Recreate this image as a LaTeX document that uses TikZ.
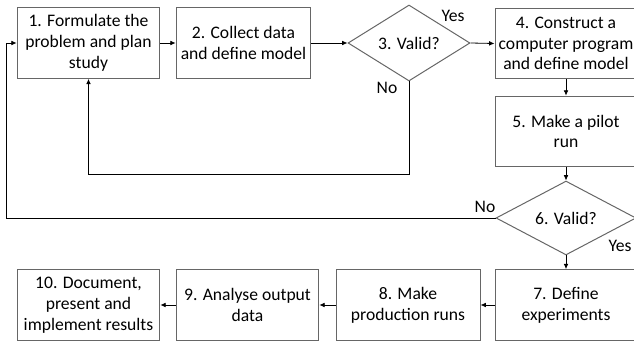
\documentclass[tikz,border=0pt]{standalone}
\usepackage{fontspec}
\setmainfont{Carlito}
\usetikzlibrary{arrows.meta, positioning, shapes.geometric}

\begin{document}
\begin{tikzpicture}[x=0.75pt, y=-0.75pt,
  every node/.style={font=\fontsize{13.2}{15.6}\selectfont},
  stage/.style={draw=black!60, line width=0.75pt, align=center,
    minimum width=107pt, minimum height=53pt, inner sep=1pt},
  check/.style={draw=black!60, line width=0.75pt, diamond, inner sep=0pt},
  flow/.style={-{Latex[length=4pt,width=3.5pt]}, line width=0.6pt}]

  \useasboundingbox (0,0) rectangle (634,342);

  % top row
  \node[stage] (b1) at (88.5,43) {1. Formulate the\\problem and plan\\study};
  \node[stage, minimum width=101pt] (b2) at (243.5,43) {2. Collect data\\and define model};
  \node[check, minimum width=91.5pt, minimum height=57pt] (d3) at (409,43) {3. Valid?};
  \node[stage, minimum width=106.5pt] (b4) at (566,43.5) {4. Construct a\\computer program\\and define model};

  % right column
  \node[stage, minimum width=106.5pt] (b5) at (566,131.5) {5. Make a pilot\\run};
  \node[check, minimum width=105pt, minimum height=52.5pt] (d6) at (566,218) {6. Valid?};

  % bottom row
  \node[stage, minimum width=106.5pt] (b7) at (566,305) {7. Define\\experiments};
  \node[stage, minimum width=108pt] (b8) at (408,305) {8. Make\\production runs};
  \node[stage] (b9) at (247.5,305) {9. Analyse output\\data};
  \node[stage] (b10) at (88.5,305) {10. Document,\\present and\\implement results};

  % decision labels
  \node (yes3) at (453,16) {Yes};
  \node (no3) at (387,88) {No};
  \node (no6) at (485,207) {No};
  \node (yes6) at (620,246) {Yes};

  % main flow
  \draw[flow] (b1) -- (b2);
  \draw[flow] (b2) -- (d3);
  \draw[flow] (d3.east) -- (b4.west);
  \draw[flow] (b4) -- (b5);
  \draw[flow] (b5) -- (d6);
  \draw[flow] (d6) -- (b7);
  \draw[flow] (b7) -- (b8);
  \draw[flow] (b8) -- (b9);
  \draw[flow] (b9) -- (b10);

  % feedback loops
  \coordinate (lowA) at (0,174);
  \coordinate (farL) at (6,0);
  \draw[flow] (d3.south) -- (d3.south |- lowA) -| (b1.south);
  \draw[flow] (d6.west) -- (farL |- d6.west) |- (b1.west);

\end{tikzpicture}
\end{document}
